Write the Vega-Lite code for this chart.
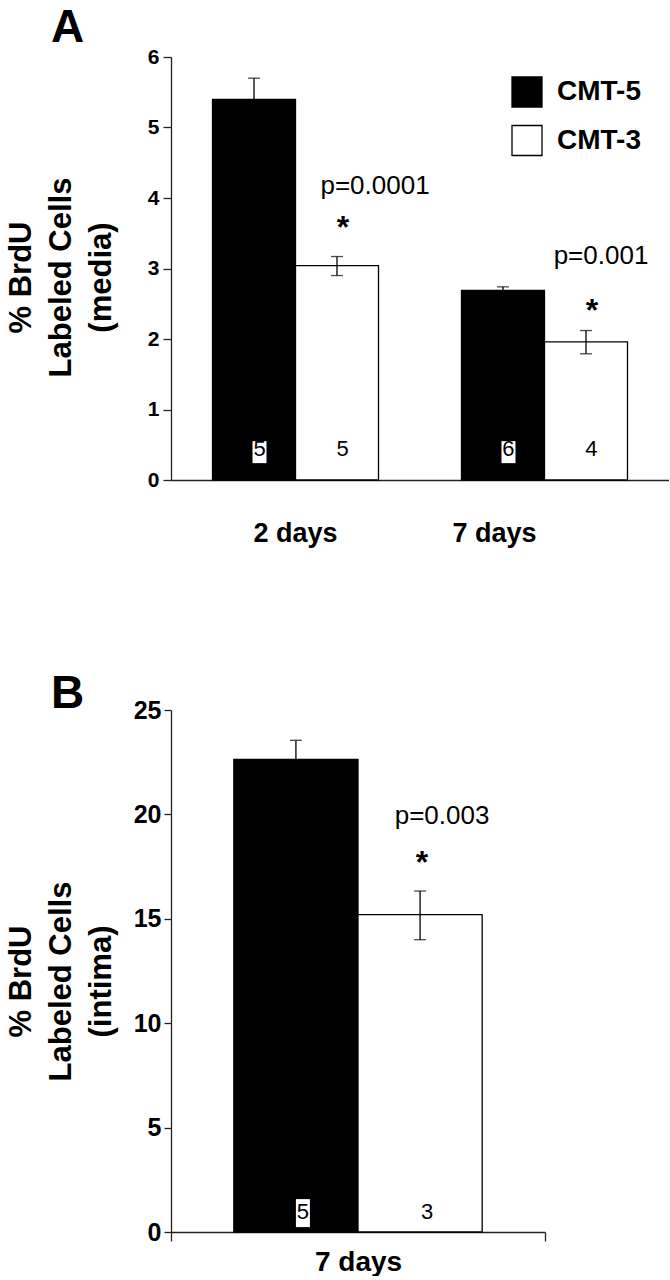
{
  "$schema": "https://vega.github.io/schema/vega-lite/v6.json",
  "background": "white",
  "padding": {"left": 4, "top": 5, "right": 0, "bottom": 0},
  "config": {
    "font": "Liberation Sans",
    "view": {"stroke": null},
    "axis": {"domainColor": "#222", "tickColor": "#222", "domainWidth": 1.3, "tickWidth": 1.3, "labelColor": "black", "titleColor": "black", "grid": false},
    "title": {"color": "black"}
  },
  "resolve": {"scale": {"x": "independent", "xOffset": "independent", "y": "independent", "fill": "independent"}, "legend": {"fill": "independent"}},
  "spacing": 124,
  "vconcat": [
    {
      "width": 498,
      "height": 423,
      "title": {"text": "A", "anchor": "start", "frame": "group", "fontSize": 46, "fontWeight": "bold", "dx": -120, "offset": -42.3, "baseline": "alphabetic"},
      "data": {"values": [
        {"time": "2 days", "treat": "CMT-5", "mean": 5.40, "lo": 5.10, "hi": 5.70, "n": "5"},
        {"time": "2 days", "treat": "CMT-3", "mean": 3.04, "lo": 2.90, "hi": 3.17, "n": "5"},
        {"time": "7 days", "treat": "CMT-5", "mean": 2.69, "lo": 2.64, "hi": 2.74, "n": "6"},
        {"time": "7 days", "treat": "CMT-3", "mean": 1.96, "lo": 1.79, "hi": 2.12, "n": "4"}
      ]},
      "encoding": {
        "x": {"field": "time", "type": "nominal", "sort": ["2 days", "7 days"],
          "scale": {"paddingInner": 0.3333, "paddingOuter": 0.1667},
          "axis": {"title": null, "ticks": false, "tickSize": 0, "labelAngle": 0, "labelFontSize": 27, "labelFontWeight": "bold", "labelPadding": 40,
            "labelOffset": {"condition": {"test": "datum.value === '7 days'", "value": -50}, "value": 0}}},
        "xOffset": {"field": "treat", "type": "nominal", "sort": ["CMT-5", "CMT-3"], "scale": {"paddingInner": 0, "paddingOuter": 0}}
      },
      "layer": [
        {
          "mark": {"type": "bar", "stroke": "black", "strokeWidth": 1.3},
          "encoding": {
            "y": {"field": "mean", "type": "quantitative", "scale": {"domain": [0, 6], "nice": false},
              "axis": {"title": ["% BrdU", "Labeled Cells", "(media)"], "titleFontSize": 31, "titleFontWeight": "bold", "titleLineHeight": 40,
                "titleX": -141, "titleY": 220, "titleAngle": -90, "titleBaseline": "alphabetic", "titleAlign": "center",
                "values": [0, 1, 2, 3, 4, 5, 6], "format": "d", "labelFontSize": 21, "labelFontWeight": "bold", "tickSize": 8, "labelPadding": 4}},
            "fill": {"field": "treat", "type": "nominal", "sort": ["CMT-5", "CMT-3"],
              "scale": {"domain": ["CMT-5", "CMT-3"], "range": ["black", "white"]},
              "legend": {"orient": "none", "legendX": 340, "legendY": 19, "title": null, "symbolType": "square", "symbolSize": 900,
                "symbolStrokeColor": "black", "symbolStrokeWidth": 1.3, "labelFontSize": 28, "labelFontWeight": "bold",
                "labelOffset": 14, "rowPadding": 12.5, "labelColor": "black", "padding": 0}}
          }
        },
        {
          "mark": {"type": "rule", "strokeWidth": 1.3, "color": "black"},
          "encoding": {"y": {"field": "lo", "type": "quantitative"}, "y2": {"field": "hi"}}
        },
        {
          "mark": {"type": "tick", "color": "black", "thickness": 1.3, "size": 12},
          "encoding": {"y": {"field": "hi", "type": "quantitative"}}
        },
        {
          "mark": {"type": "tick", "color": "black", "thickness": 1.3, "size": 12},
          "encoding": {"y": {"field": "lo", "type": "quantitative"}}
        },
        {
          "transform": [{"filter": "datum.treat === 'CMT-5'"}],
          "mark": {"type": "point", "shape": "M-0.1,-0.733L0.833,-0.733L0.833,0.733L-0.1,0.733Z", "size": 900, "filled": true, "color": "white", "opacity": 1, "strokeWidth": 0},
          "encoding": {"y": {"datum": 0.395, "type": "quantitative"}}
        },
        {
          "mark": {"type": "text", "fontSize": 22, "dx": 5.5, "baseline": "middle", "color": "black"},
          "encoding": {"y": {"datum": 0.435, "type": "quantitative"}, "text": {"field": "n"}}
        },
        {
          "data": {"values": [
            {"time": "2 days", "treat": "CMT-3", "p": "p=0.0001", "py": 4.05, "sy": 3.43},
            {"time": "7 days", "treat": "CMT-3", "p": "p=0.001", "py": 3.07, "sy": 2.25}
          ]},
          "layer": [
            {
              "mark": {"type": "text", "fontSize": 26, "baseline": "alphabetic", "align": "center", "color": "black", "dx": {"expr": "datum.time === '2 days' ? 38 : 15"}},
              "encoding": {"y": {"field": "py", "type": "quantitative"}, "text": {"field": "p"}}
            },
            {
              "mark": {"type": "text", "fontSize": 32, "fontWeight": "bold", "baseline": "alphabetic", "align": "center", "color": "black", "dx": 6},
              "encoding": {"y": {"field": "sy", "type": "quantitative"}, "text": {"value": "*"}}
            }
          ]
        }
      ]
    },
    {
      "width": 374,
      "height": 522,
      "title": {"text": "B", "anchor": "start", "frame": "group", "fontSize": 46, "fontWeight": "bold", "dx": -120, "offset": -55.7, "baseline": "alphabetic"},
      "data": {"values": [
        {"time": "7 days", "treat": "CMT-5", "mean": 22.64, "lo": 21.73, "hi": 23.55, "n": "5"},
        {"time": "7 days", "treat": "CMT-3", "mean": 15.2, "lo": 14.0, "hi": 16.33, "n": "3"}
      ]},
      "encoding": {
        "x": {"field": "time", "type": "nominal",
          "scale": {"paddingInner": 0, "paddingOuter": 0},
          "axis": {"title": null, "tickBand": "extent", "tickSize": 9, "labelAngle": 0, "labelFontSize": 28, "labelFontWeight": "bold", "labelPadding": 7}},
        "xOffset": {"field": "treat", "type": "nominal", "sort": ["CMT-5", "CMT-3"], "scale": {"paddingInner": 0, "paddingOuter": 0.506}}
      },
      "layer": [
        {
          "mark": {"type": "bar", "stroke": "black", "strokeWidth": 1.3},
          "encoding": {
            "y": {"field": "mean", "type": "quantitative", "scale": {"domain": [0, 25], "nice": false},
              "axis": {"title": ["% BrdU", "Labeled Cells", "(intima)"], "titleFontSize": 31, "titleFontWeight": "bold", "titleLineHeight": 40,
                "titleX": -141, "titleY": 271, "titleAngle": -90, "titleBaseline": "alphabetic", "titleAlign": "center",
                "values": [0, 5, 10, 15, 20, 25], "labelFontSize": 25, "labelFontWeight": "bold", "tickSize": 7, "labelPadding": 3}},
            "fill": {"field": "treat", "type": "nominal", "sort": ["CMT-5", "CMT-3"], "scale": {"domain": ["CMT-5", "CMT-3"], "range": ["black", "white"]}, "legend": null}
          }
        },
        {
          "mark": {"type": "rule", "strokeWidth": 1.3, "color": "black"},
          "encoding": {"y": {"field": "lo", "type": "quantitative"}, "y2": {"field": "hi"}}
        },
        {
          "mark": {"type": "tick", "color": "black", "thickness": 1.3, "size": 12},
          "encoding": {"y": {"field": "hi", "type": "quantitative"}}
        },
        {
          "mark": {"type": "tick", "color": "black", "thickness": 1.3, "size": 12},
          "encoding": {"y": {"field": "lo", "type": "quantitative"}}
        },
        {
          "transform": [{"filter": "datum.treat === 'CMT-5'"}],
          "mark": {"type": "point", "shape": "M0,-0.933L0.933,-0.933L0.933,0.933L0,0.933Z", "size": 900, "filled": true, "color": "white", "opacity": 1, "strokeWidth": 0},
          "encoding": {"y": {"datum": 0.905, "type": "quantitative"}}
        },
        {
          "mark": {"type": "text", "fontSize": 22, "dx": 7, "baseline": "middle", "color": "black"},
          "encoding": {"y": {"datum": 0.96, "type": "quantitative"}, "text": {"field": "n"}}
        },
        {
          "data": {"values": [
            {"time": "7 days", "treat": "CMT-3", "p": "p=0.003", "py": 19.54, "sy": 17.17}
          ]},
          "layer": [
            {
              "mark": {"type": "text", "fontSize": 26, "baseline": "alphabetic", "align": "center", "color": "black", "dx": 22},
              "encoding": {"y": {"field": "py", "type": "quantitative"}, "text": {"field": "p"}}
            },
            {
              "mark": {"type": "text", "fontSize": 32, "fontWeight": "bold", "baseline": "alphabetic", "align": "center", "color": "black", "dx": 2},
              "encoding": {"y": {"field": "sy", "type": "quantitative"}, "text": {"value": "*"}}
            }
          ]
        }
      ]
    }
  ]
}
